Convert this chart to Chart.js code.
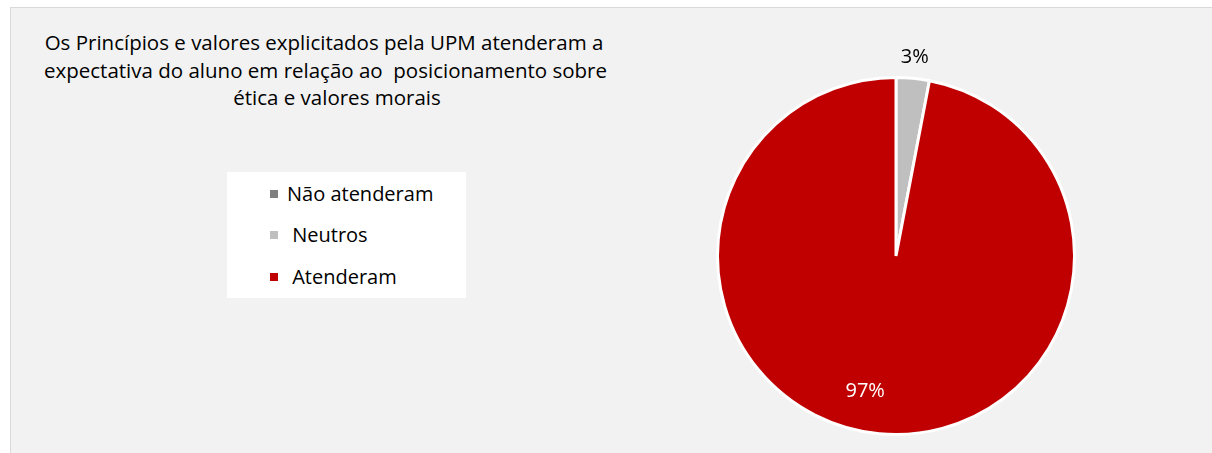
<!DOCTYPE html>
<html>
<head>
<meta charset="utf-8">
<script src="https://cdn.jsdelivr.net/npm/chart.js@4"></script>
<style>
  html, body { margin: 0; padding: 0; background: #ffffff; }
  #wrap { position: relative; width: 1212px; height: 453px; overflow: hidden; }
  #panel { position: absolute; left: 10px; top: 7px; width: 1210px; height: 460px;
           background: #f2f2f2; border: 1px solid #d9d9d9; box-sizing: border-box; }
  #title { position: absolute; left: 24px; top: 29px; width: 600px; text-align: center;
           font-family: "Open Sans", sans-serif; font-size: 20.5px; line-height: 27.5px; color: #000;
           white-space: pre; }
  #title div:nth-child(2) { padding-left: 3px; }
  #title div:nth-child(3) { padding-left: 26px; }
  #legend { position: absolute; left: 227px; top: 172px; width: 239px; height: 126px;
            background: #ffffff; font-family: "Open Sans", sans-serif; font-size: 20px; color: #000; }
  .item { position: absolute; left: 43px; height: 24px; line-height: 24px; white-space: pre; }
  .sw { display: inline-block; width: 8px; height: 8px; margin-right: 9px; vertical-align: 3px; }
  canvas { position: absolute; left: 0; top: 0; }
</style>
</head>
<body>
<div id="wrap">
  <div id="panel"></div>
  <div id="title"></div>
  <div id="legend"></div>
  <canvas id="c" width="1212" height="453"></canvas>
</div>
<script>
const titleLines = [
  "Os Princípios e valores explicitados pela UPM atenderam a",
  "expectativa do aluno em relação ao  posicionamento sobre",
  "ética e valores morais"
];
const categories = ["Não atenderam", "Neutros", "Atenderam"];
const legendText = ["Não atenderam", " Neutros", " Atenderam"];
const values = [0, 3, 97];
const colors = ["#7f7f7f", "#bfbfbf", "#c00000"];

const titleEl = document.getElementById('title');
titleLines.forEach(t => {
  const d = document.createElement('div');
  d.textContent = t;
  titleEl.appendChild(d);
});

const legendTops = [182, 223, 265];
const legend = document.getElementById('legend');
categories.forEach((c, i) => {
  const d = document.createElement('div');
  d.className = 'item';
  d.style.top = (legendTops[i] - 172) + 'px';
  const sw = document.createElement('span');
  sw.className = 'sw';
  sw.style.background = colors[i];
  d.appendChild(sw);
  d.appendChild(document.createTextNode(legendText[i]));
  legend.appendChild(d);
});

const labelPlugin = {
  id: 'pctLabels',
  afterDatasetsDraw(chart) {
    const ctx = chart.ctx;
    const meta = chart.getDatasetMeta(0);
    const total = values.reduce((a, b) => a + b, 0);
    ctx.save();
    ctx.font = '20px "Open Sans", sans-serif';
    ctx.textAlign = 'center';
    ctx.textBaseline = 'middle';
    meta.data.forEach((arc, i) => {
      const v = values[i];
      if (!v) return;
      const p = arc.getProps(['x', 'y', 'startAngle', 'endAngle', 'outerRadius'], true);
      const pct = Math.round(v / total * 100) + '%';
      let ang = (p.startAngle + p.endAngle) / 2;
      let r, col;
      if (v / total < 0.1) {
        r = p.outerRadius + 21;
        col = '#000000';
      } else {
        r = p.outerRadius * 0.78;
        col = '#ffffff';
        ang += 7.4 * Math.PI / 180;
      }
      ctx.fillStyle = col;
      ctx.fillText(pct, p.x + Math.cos(ang) * r, p.y + Math.sin(ang) * r);
    });
    ctx.restore();
  }
};

new Chart(document.getElementById('c'), {
  type: 'pie',
  data: {
    labels: categories,
    datasets: [{
      data: values,
      backgroundColor: colors,
      borderColor: '#ffffff',
      borderWidth: 3
    }]
  },
  options: {
    responsive: false,
    animation: false,
    layout: { padding: { left: 716, right: 136, top: 76, bottom: 17 } },
    plugins: {
      legend: { display: false },
      tooltip: { enabled: false },
      title: { display: false }
    }
  },
  plugins: [labelPlugin]
});
</script>
</body>
</html>
